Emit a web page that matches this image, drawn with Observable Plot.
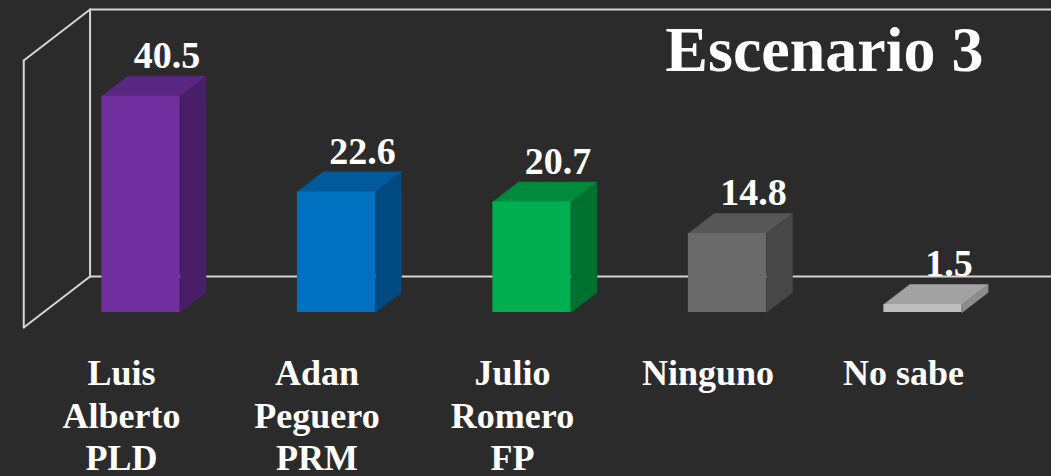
<!DOCTYPE html>
<html><head><meta charset="utf-8">
<script src="https://cdn.jsdelivr.net/npm/d3@7"></script>
<script src="https://cdn.jsdelivr.net/npm/@observablehq/plot@0.6"></script>
<style>
html,body{margin:0;padding:0;background:#2b2b2b;overflow:hidden;font-family:"Liberation Serif",serif}
#chart svg{display:block}
</style>
</head><body><div id="chart"></div>
<script>
// ---- data ----
const categories = ["Luis\nAlberto\nPLD", "Adan\nPeguero\nPRM", "Julio\nRomero\nFP", "Ninguno", "No sabe"];
const values = [40.5, 22.6, 20.7, 14.8, 1.5];
const valueLabels = ["40.5", "22.6", "20.7", "14.8", "1.5"];
const frontColors = ["#7030a0", "#0070c0", "#00b050", "#6a6a6a", "#bdbdbd"];
const topColors = ["#5a2782", "#005a9c", "#008a3c", "#575757", "#a2a2a2"];
const sideColors = ["#4a1f6a", "#004a80", "#00702e", "#474747", "#8c8c8c"];
const title = "Escenario 3";
const yMax = 50;

// ---- 3D geometry (in data units) ----
const HALF = 0.2;      // half bar width (band units)
const DX = 0.133;      // depth step in x
const DY = 3.745;      // depth step in y
const WALL_D = 1.8;    // depth of back wall
const FLOOR_D = -0.75; // depth of front floor edge

const idx = values.map((_, i) => i);
const font = "Liberation Serif";

const faces = [];
idx.forEach(i => {
  const v = values[i];
  const topPts = [[i - HALF, v], [i + HALF, v], [i + HALF + DX, v + DY], [i - HALF + DX, v + DY]];
  const sidePts = [[i + HALF, 0], [i + HALF + DX, DY], [i + HALF + DX, v + DY], [i + HALF, v]];
  topPts.forEach(([x, y]) => faces.push({id: "t" + i, x, y, color: topColors[i]}));
  sidePts.forEach(([x, y]) => faces.push({id: "s" + i, x, y, color: sideColors[i]}));
});

const P = (x, y, d) => ({x: x + d * DX, y: y + d * DY});
const wallSegs = [
  [P(-0.5, yMax, WALL_D), P(5.2, yMax, WALL_D)],
  [P(-0.5, 0, WALL_D), P(5.2, 0, WALL_D)],
  [P(-0.5, 0, WALL_D), P(-0.5, yMax, WALL_D)],
  [P(-0.5, yMax, WALL_D), P(-0.5, yMax, FLOOR_D)],
  [P(-0.5, yMax, FLOOR_D), P(-0.5, 0, FLOOR_D)],
  [P(-0.5, 0, FLOOR_D), P(-0.5, 0, WALL_D)]
];
const wallPts = wallSegs.flatMap((seg, k) => seg.map(p => ({...p, id: k})));

const chart = Plot.plot({
  width: 1051,
  height: 476,
  margin: 0,
  style: {background: "#2b2b2b", overflow: "hidden", fontFamily: "Liberation Serif"},
  x: {domain: [-0.5, 4.5], range: [42.75, 1020.25], axis: null},
  y: {domain: [0, yMax], range: [312, 45], axis: null},
  marks: [
    Plot.line(wallPts, {x: "x", y: "y", z: "id", stroke: "#d6d6d6", strokeWidth: 2}),
    Plot.line(faces, {x: "x", y: "y", z: "id", fill: d => d.color, stroke: d => d.color, strokeWidth: 0.5, curve: "linear-closed"}),
    Plot.rect(idx, {x1: i => i - HALF, x2: i => i + HALF, y1: 0, y2: i => values[i], fill: i => frontColors[i]}),
    Plot.text(idx, {x: i => i + DX, y: i => values[i] + DY, text: i => valueLabels[i], dy: -8, lineAnchor: "bottom",
      fontSize: 38, fontWeight: "bold", fontFamily: font, fill: "white"}),
    Plot.text(idx, {x: i => i + FLOOR_D * DX, y: FLOOR_D * DY, text: i => categories[i], lineAnchor: "top", dy: 28,
      lineHeight: 1.17, fontSize: 36, fontWeight: "bold", fontFamily: font, fill: "white"}),
    Plot.text([title], {frameAnchor: "top-right", text: d => d, dx: -68, dy: 25, fontSize: 64, fontWeight: "bold",
      fontFamily: font, fill: "white", ariaLabel: "title"})
  ]
});
d3.select(chart).selectAll("text, tspan").attr("font-family", font).style("font-family", font);
d3.select(chart).selectAll('g[aria-label="title"]').style("filter", "drop-shadow(3px 3px 2px rgba(0,0,0,0.75))");
document.getElementById("chart").appendChild(chart);
</script></body></html>
